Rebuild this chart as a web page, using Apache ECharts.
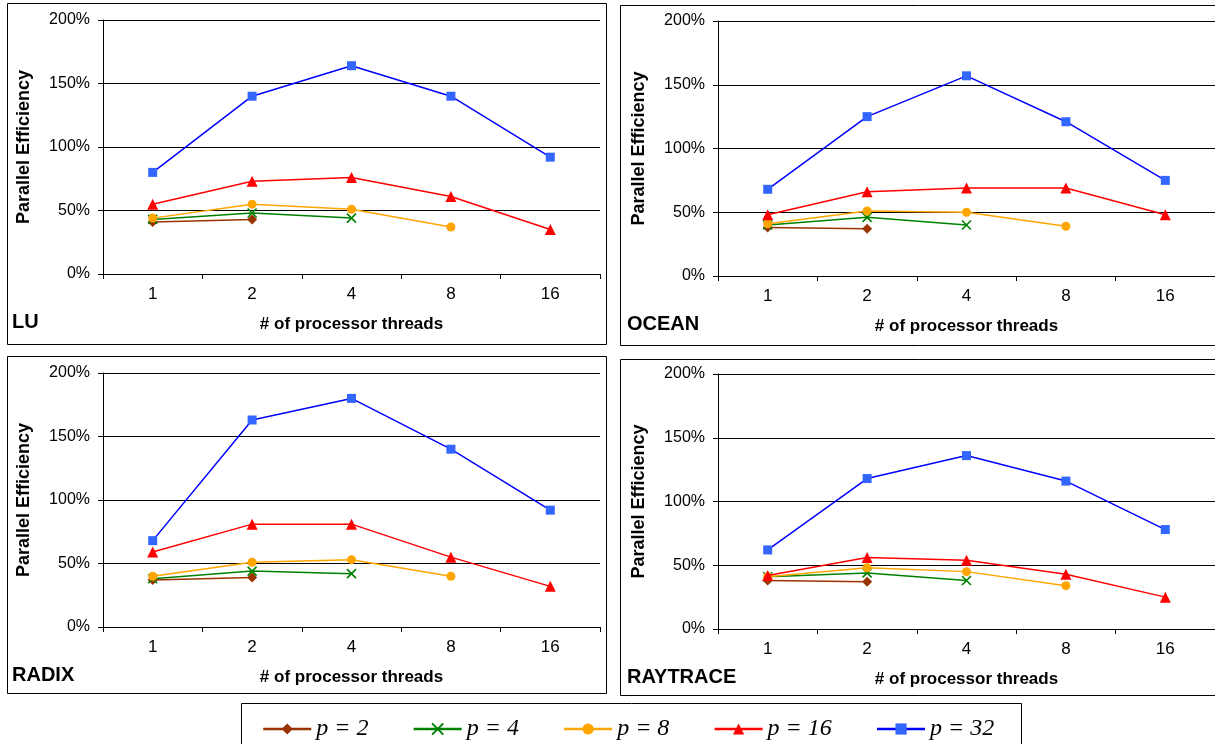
<!DOCTYPE html>
<html><head><meta charset="utf-8">
<script src="https://cdn.jsdelivr.net/npm/echarts@6/dist/echarts.min.js"></script>
<style>html,body{margin:0;padding:0;background:#fff}#c{width:1215px;height:744px}</style>
</head><body><div id="c"></div>
<script>
const categories = ['1', '2', '4', '8', '16'];
const yTicks = [0, 50, 100, 150, 200];
const seriesNames = ['p = 2', 'p = 4', 'p = 8', 'p = 16', 'p = 32'];
const panelNames = ['LU', 'OCEAN', 'RADIX', 'RAYTRACE'];

// values in percent, per panel, per series (p = 2 .. p = 32)
const lu_p2 = [41, 43];
const lu_p4 = [43, 48, 44];
const lu_p8 = [44, 55, 51, 37];
const lu_p16 = [55, 73, 76, 61, 35];
const lu_p32 = [80, 140, 164, 140, 92];

const ocean_p2 = [38, 37];
const ocean_p4 = [40, 46, 40];
const ocean_p8 = [41, 51, 50, 39];
const ocean_p16 = [48, 66, 69, 69, 48];
const ocean_p32 = [68, 125, 157, 121, 75];

const radix_p2 = [37, 39];
const radix_p4 = [38, 44, 42];
const radix_p8 = [40, 51, 53, 40];
const radix_p16 = [59, 81, 81, 55, 32];
const radix_p32 = [68, 163, 180, 140, 92];

const raytrace_p2 = [38, 37];
const raytrace_p4 = [41, 44, 38];
const raytrace_p8 = [41, 48, 45, 34];
const raytrace_p16 = [42, 56, 54, 43, 25];
const raytrace_p32 = [62, 118, 136, 116, 78];

const panelData = [
  [lu_p2, lu_p4, lu_p8, lu_p16, lu_p32],
  [ocean_p2, ocean_p4, ocean_p8, ocean_p16, ocean_p32],
  [radix_p2, radix_p4, radix_p8, radix_p16, radix_p32],
  [raytrace_p2, raytrace_p4, raytrace_p8, raytrace_p16, raytrace_p32]
];

const styles = [
  {line: '#993300', fill: '#993300', symbol: 'diamond', size: 10},
  {line: '#008000', fill: 'transparent', border: '#008000', symbol: 'path://M0,0L10,10M10,0L0,10', size: 9},
  {line: '#FFA500', fill: '#FFA500', symbol: 'circle', size: 9},
  {line: '#FF0000', fill: '#FF0000', symbol: 'triangle', size: 11},
  {line: '#0000FF', fill: '#3366FF', symbol: 'rect', size: 9}
];

const grids = [
  {left: 103, top: 20, width: 497, height: 254},
  {left: 718, top: 21, width: 499, height: 255},
  {left: 103, top: 373, width: 497, height: 254},
  {left: 718, top: 374, width: 499, height: 255}
];
const boxes = [
  {x: 7.5, y: 3.5, w: 599, h: 341},
  {x: 620.5, y: 5.5, w: 620, h: 340},
  {x: 7.5, y: 356.5, w: 599, h: 337},
  {x: 620.5, y: 359.5, w: 620, h: 336}
];
const titlePos = [
  {left: 12, top: 311},
  {left: 627, top: 313},
  {left: 12, top: 664},
  {left: 627, top: 666}
];

const font = 'Arial, "Liberation Sans", sans-serif';
const xAxes = [], yAxes = [], series = [], titles = [], graphics = [];
grids.forEach((g, i) => {
  xAxes.push({
    type: 'category', gridIndex: i, data: categories, boundaryGap: true,
    axisLine: {lineStyle: {color: '#000', width: 1}},
    axisTick: {show: true, length: 5, lineStyle: {color: '#000'}},
    axisLabel: {color: '#000', fontSize: 17, fontFamily: font, margin: 12},
    name: '# of processor threads', nameLocation: 'middle', nameGap: 42,
    nameTextStyle: {color: '#000', fontSize: 17, fontWeight: 'bold', fontFamily: font}
  });
  yAxes.push({
    type: 'value', gridIndex: i, min: 0, max: 200, interval: 50,
    axisLine: {show: true, lineStyle: {color: '#000', width: 1}},
    axisTick: {show: true, length: 5, lineStyle: {color: '#000'}},
    axisLabel: {color: '#000', fontSize: 16, fontFamily: font, margin: 13, formatter: '{value}%'},
    splitLine: {show: true, lineStyle: {color: '#000', width: 1}},
    name: 'Parallel Efficiency', nameLocation: 'middle', nameRotate: 90, nameGap: 70,
    nameTextStyle: {color: '#000', fontSize: 18, fontWeight: 'bold', fontFamily: font}
  });
  titles.push({
    text: panelNames[i], left: titlePos[i].left, top: titlePos[i].top, padding: 0,
    textStyle: {color: '#000', fontSize: 20, fontWeight: 'bold', fontFamily: font, lineHeight: 22}
  });
  graphics.push({
    type: 'rect', z: -1, silent: true,
    shape: {x: boxes[i].x, y: boxes[i].y, width: boxes[i].w, height: boxes[i].h},
    style: {fill: 'none', stroke: '#000', lineWidth: 1}
  });
  panelData[i].forEach((vals, s) => {
    const st = styles[s];
    series.push({
      type: 'line', name: seriesNames[s], xAxisIndex: i, yAxisIndex: i,
      data: vals, symbol: st.symbol, symbolSize: st.size, showAllSymbol: true,
      lineStyle: {color: st.line, width: 1.5},
      itemStyle: st.border ? {color: st.fill, borderColor: st.border, borderWidth: 1.6}
                           : {color: st.fill, borderWidth: 0},
      emphasis: {disabled: true}, animation: false, z: 2 + s
    });
  });
});
graphics.push({
  type: 'rect', z: -1, silent: true,
  shape: {x: 241.5, y: 703.5, width: 780, height: 50},
  style: {fill: 'none', stroke: '#000', lineWidth: 1}
});

const chart = echarts.init(document.getElementById('c'), null, {renderer: 'canvas'});
chart.setOption({
  backgroundColor: '#fff',
  animation: false,
  title: titles,
  grid: grids,
  xAxis: xAxes,
  yAxis: yAxes,
  series: series,
  graphic: graphics,
  legend: {
    data: seriesNames, left: 262, top: 717, padding: 0, itemWidth: 48, itemHeight: 14, itemGap: 44,
    lineStyle: {width: 2.5},
    textStyle: {color: '#000', fontSize: 24, fontStyle: 'italic', fontFamily: '"Liberation Serif", "Times New Roman", serif'},
    selectedMode: false
  }
});
</script></body></html>
